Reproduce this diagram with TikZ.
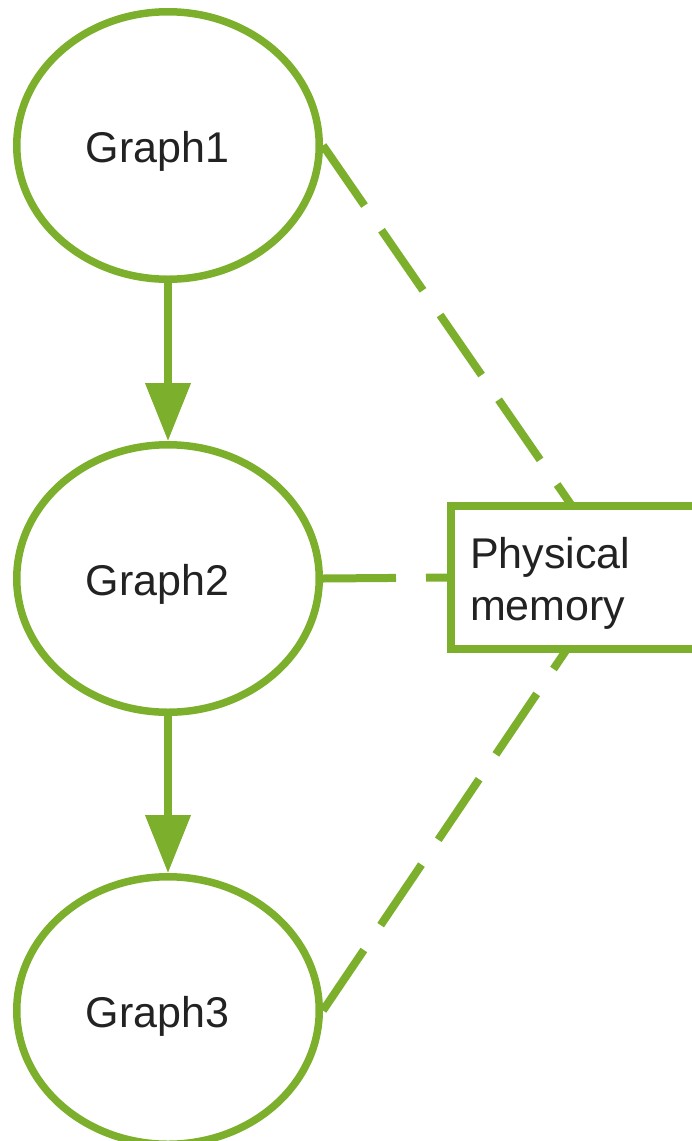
\documentclass[tikz,border=0pt]{standalone}
\usepackage{fontspec}
\setmainfont{Liberation Sans}
\usetikzlibrary{shapes.geometric,arrows.meta,calc}
\definecolor{nvgreen}{RGB}{124,176,44}
\definecolor{txtcol}{RGB}{34,34,34}
\begin{document}
\begin{tikzpicture}[x=1pt,y=-1pt,
  gnode/.style={ellipse,draw=nvgreen,line width=7.5pt,minimum width=302.5pt,minimum height=267.5pt,
    inner sep=0pt,font=\fontsize{43}{52}\selectfont,text=txtcol,text height=33pt,text depth=0pt},
  memnode/.style={rectangle,draw=nvgreen,line width=8pt,minimum height=143pt,inner xsep=19pt,inner ysep=0pt,
    text width=232pt,align=left,outer sep=0pt,font=\fontsize{43}{52}\selectfont,text=txtcol,
    text height=40pt,text depth=59pt},
  flow/.style={draw=nvgreen,line width=7.5pt,-{Triangle[length=58pt,width=44pt]}},
  share/.style={draw=nvgreen,line width=8pt,dash pattern=on 73pt off 30pt}]
\useasboundingbox (0,0) rectangle (692,1141);
\node[gnode] (g1) at (168,145.5) {\hspace*{-21pt}Graph1};
\node[gnode] (g2) at (168,578.5) {\hspace*{-21pt}Graph2};
\node[gnode] (g3) at (168,1010.5) {\hspace*{-21pt}Graph3};
\node[memnode,anchor=north west] (mem) at (451,506) {Physical\\memory};
\coordinate (memtop) at ($(mem.north west)+(121,0)$);
\coordinate (membot) at ($(mem.south west)+(116,0)$);
\draw[flow] (g1) -- (g2);
\draw[flow] (g2) -- (g3);
\draw[share] (g1.east) -- (memtop);
\draw[share] (g2.east) -- (mem.west);
\draw[share] (g3.east) -- (membot);
\end{tikzpicture}
\end{document}
